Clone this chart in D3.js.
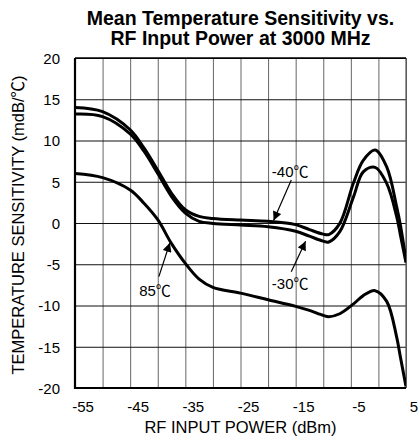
<!DOCTYPE html>
<html>
<head>
<meta charset="utf-8">
<script src="https://cdn.jsdelivr.net/npm/d3@7"></script>
<style>
  body { margin: 0; background: #fff; }
  svg { display: block; }
  text { font-family: "Liberation Sans", Arial, "Noto Sans CJK JP", sans-serif; fill: #000; }
</style>
</head>
<body>
<svg id="chart" width="419" height="440"></svg>
<script>
// ---- data ----
const titleLines = ["Mean Temperature Sensitivity vs.", "RF Input Power at 3000 MHz"];
const xAxisTitle = "RF INPUT POWER (dBm)";
const yAxisTitle = "TEMPERATURE SENSITIVITY (mdB/℃)";
const xTicks = [-55, -50, -45, -40, -35, -30, -25, -20, -15, -10, -5, 0, 5];
const xTickLabels = [-55, -45, -35, -25, -15, -5, 5];
const yTicks = [-20, -15, -10, -5, 0, 5, 10, 15, 20];
const rfPower = [-55, -50, -45, -42.5, -40, -37.5, -35, -32.5, -30, -25, -20, -15, -12.5, -10, -9, -7, -4.5, -2.75, -0.6, 1.5, 3.3, 4, 5];
const sensMinus40 = [14.0, 13.5, 11.3, 9.1, 6.4, 3.6, 1.6, 0.8, 0.55, 0.35, 0.2, -0.2, -0.8, -1.35, -1.4, -0.05, 4.9, 7.6, 8.85, 6.8, 2.0, -0.3, -4.5];
const sensMinus30 = [13.2, 12.9, 10.8, 8.7, 6.0, 3.2, 1.2, 0.2, -0.05, -0.25, -0.45, -1.0, -1.6, -2.2, -2.3, -1.05, 3.2, 6.2, 6.75, 4.8, 0.8, -1.5, -4.8];
const sens85 = [6.0, 5.5, 4.0, 2.4, 0.4, -2.5, -4.9, -6.8, -7.8, -8.5, -9.3, -10.1, -10.6, -11.2, -11.35, -11.0, -9.8, -8.8, -8.2, -9.5, -13.8, -16.3, -19.8];
const seriesNames = ["-40℃", "-30℃", "85℃"];
// label positions and arrow start/end, in data units
const labelAnchors = [
  { name: "-40℃", tx: -16, ty: 5.6, ax: -15.8, ay: 5.2, px: -19, py: 0.3 },
  { name: "-30℃", tx: -16, ty: -8.0, ax: -15.8, ay: -5.9, px: -13.2, py: -2.2 },
  { name: "85℃", tx: -40.5, ty: -8.8, ax: -39.8, ay: -6.5, px: -37.8, py: -2.4 }
];

// ---- layout ----
const margin = { left: 75, top: 58, right: 13, bottom: 52 };
const W = 419, H = 440;
const w = W - margin.left - margin.right;
const h = H - margin.top - margin.bottom;

const svg = d3.select("#chart");
const defs = svg.append("defs");
const g = svg.append("g").attr("transform", `translate(${margin.left},${margin.top})`);

const x = d3.scaleLinear().domain([-55, 5]).range([0, w]);
const y = d3.scaleLinear().domain([-20, 20]).range([h, 0]);

// vertical grid + x tick labels
const xAxis = d3.axisBottom(x).tickValues(xTicks).tickSize(-h)
  .tickFormat(d => xTickLabels.includes(d) ? String(d) : "");
const gx = g.append("g").attr("transform", `translate(0,${h})`).call(xAxis);
gx.select(".domain").remove();
gx.selectAll(".tick line").attr("stroke", "#666").attr("stroke-width", 1);
gx.selectAll(".tick text").attr("y", 24).attr("dy", 0).attr("dx", 7.5)
  .style("font-size", "15px");

// horizontal grid + y tick labels
const yAxis = d3.axisLeft(y).tickValues(yTicks).tickSize(-w).tickFormat(d => String(d));
const gy = g.append("g").call(yAxis);
gy.select(".domain").remove();
gy.selectAll(".tick line").attr("stroke", "#111").attr("stroke-width", 1);
gy.selectAll(".tick text").attr("x", -15).attr("dy", "0.36em").style("font-size", "15px");

// frame
g.append("line").attr("x1", w).attr("x2", w).attr("y1", 0).attr("y2", h).attr("stroke", "#555").attr("stroke-width", 1.2);
g.append("line").attr("x1", 0).attr("x2", w).attr("y1", 0).attr("y2", 0).attr("stroke", "#000").attr("stroke-width", 1.5);
g.append("line").attr("x1", 0).attr("x2", 0).attr("y1", 0).attr("y2", h + 1).attr("stroke", "#000").attr("stroke-width", 2.2);
g.append("line").attr("x1", -1).attr("x2", w).attr("y1", h).attr("y2", h).attr("stroke", "#000").attr("stroke-width", 2.2);

// curves
defs.append("clipPath").attr("id", "plotclip")
  .append("rect").attr("x", 0).attr("y", -5).attr("width", w).attr("height", h + 5);
const line = d3.line().x(d => x(d[0])).y(d => y(d[1])).curve(d3.curveCatmullRom.alpha(0.5));
[sensMinus40, sensMinus30, sens85].forEach(vals => {
  g.append("path")
    .datum(rfPower.map((p, i) => [p, vals[i]]))
    .attr("d", line)
    .attr("fill", "none")
    .attr("stroke", "#000")
    .attr("stroke-width", 3)
    .attr("stroke-linejoin", "round")
    .attr("clip-path", "url(#plotclip)");
});

// arrows + labels
defs.append("marker")
  .attr("id", "arrow").attr("viewBox", "0 0 10 10").attr("refX", 10).attr("refY", 5)
  .attr("markerWidth", 10).attr("markerHeight", 9).attr("markerUnits", "userSpaceOnUse")
  .attr("orient", "auto")
  .append("path").attr("d", "M0,0 L10,5 L0,10 Z").attr("fill", "#000");

labelAnchors.forEach(a => {
  g.append("line")
    .attr("x1", x(a.ax)).attr("y1", y(a.ay))
    .attr("x2", x(a.px)).attr("y2", y(a.py))
    .attr("stroke", "#000").attr("stroke-width", 1.2)
    .attr("marker-end", "url(#arrow)");
  g.append("text")
    .attr("x", x(a.tx)).attr("y", y(a.ty))
    .attr("text-anchor", "middle")
    .style("font-size", "15px")
    .text(a.name);
});

// title
svg.append("text").attr("x", margin.left + w / 2).attr("y", 24.5)
  .attr("text-anchor", "middle").style("font-size", "19.5px").style("font-weight", "bold")
  .text(titleLines[0]);
svg.append("text").attr("x", margin.left + w / 2).attr("y", 44.5)
  .attr("text-anchor", "middle").style("font-size", "19.5px").style("font-weight", "bold")
  .text(titleLines[1]);

// axis titles
svg.append("text").attr("x", margin.left + w / 2).attr("y", 433)
  .attr("text-anchor", "middle").style("font-size", "16.5px").text(xAxisTitle);
svg.append("text").attr("transform", `translate(24,${margin.top + h / 2 + 2}) rotate(-90)`)
  .attr("text-anchor", "middle").style("font-size", "16.5px").text(yAxisTitle);
</script>
</body>
</html>
